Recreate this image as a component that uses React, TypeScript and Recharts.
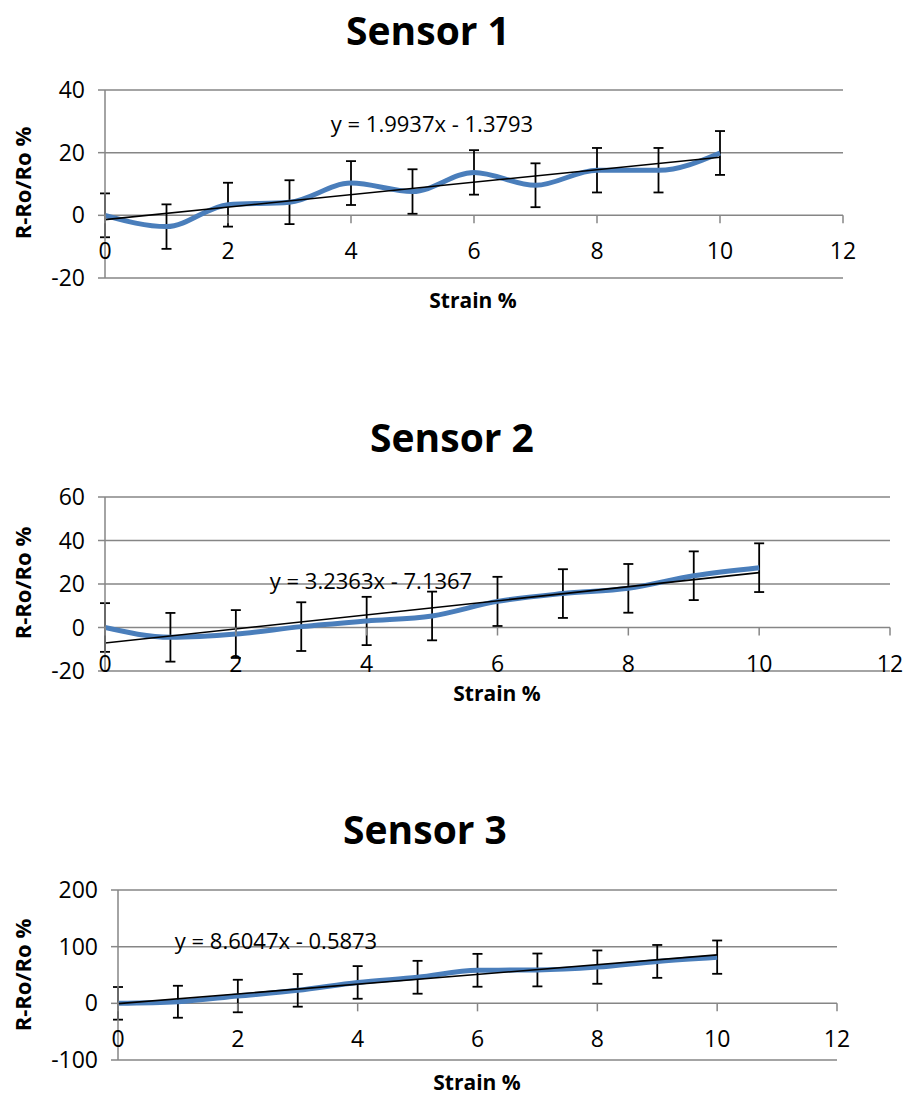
import React from 'react';
import { ComposedChart, Line, XAxis, YAxis, CartesianGrid, ErrorBar } from 'recharts';

// strain steps (x) shared by all three sensors
const strain = [0, 1, 2, 3, 4, 5, 6, 7, 8, 9, 10];
const xTicks = [0, 2, 4, 6, 8, 10, 12];

// Sensor 1
const sensor1Mean = [0, -3.6, 3.4, 4.2, 10.3, 7.6, 13.7, 9.6, 14.4, 14.4, 19.9];
const sensor1Err = [7, 7.1, 7, 7, 7, 7.1, 7.1, 7, 7.1, 7.1, 7];
const sensor1Ticks = [-20, 0, 20, 40];
const sensor1Fit = [1.9937, -1.3793];

// Sensor 2
const sensor2Mean = [0, -4.5, -3.0, 0.4, 3.0, 5.3, 12.0, 15.6, 18.0, 23.8, 27.5];
const sensor2Err = [11.2, 11.2, 11, 11.2, 11.1, 11.2, 11.3, 11.2, 11.2, 11.2, 11.2];
const sensor2Ticks = [-20, 0, 20, 40, 60];
const sensor2Fit = [3.2363, -7.1367];

// Sensor 3
const sensor3Mean = [0, 2.8, 12.9, 22.9, 36.9, 46, 58.3, 58.9, 63.9, 74, 81.5];
const sensor3Err = [28.8, 28.2, 28.7, 28.8, 28.8, 29, 29, 29, 29.4, 29, 29.4];
const sensor3Ticks = [-100, 0, 100, 200];
const sensor3Fit = [8.6047, -0.5873];

const FONT = '"Open Sans", sans-serif';
const GRID = '#868686';
const BLUE = '#4A7EBB';

type Layout = {
  svgTop: number;
  svgH: number;
  L: number;
  R: number;
  T: number;
  B: number;
  title: [number, number];
  yTitle: [number, number];
  xTitle: [number, number];
  eq: [number, number];
};

const XAXIS_H = 30;

const fmtFit = (fit: number[]) =>
  `y = ${fit[0].toFixed(4)}x ${fit[1] < 0 ? '-' : '+'} ${Math.abs(fit[1]).toFixed(4)}`;

const SensorChart = ({
  title,
  mean,
  err,
  yTicks,
  fit,
  layout,
}: {
  title: string;
  mean: number[];
  err: number[];
  yTicks: number[];
  fit: number[];
  layout: Layout;
}) => {
  const data = strain.map((x, i) => ({ x, mean: mean[i], err: err[i] }));
  const first = strain[0];
  const last = strain[strain.length - 1];
  const trend = [
    { x: first, trend: fit[0] * first + fit[1] },
    { x: last, trend: fit[0] * last + fit[1] },
  ];
  const yMin = yTicks[0];
  const yMax = yTicks[yTicks.length - 1];
  const plotTop = layout.T - layout.svgTop;
  const zeroY = plotTop + ((layout.B - layout.T) * yMax) / (yMax - yMin);
  const margin = {
    top: plotTop,
    right: 903 - layout.R,
    left: 0,
    bottom: layout.svgTop + layout.svgH - layout.B - XAXIS_H,
  };

  const renderXTick = (p: any) => (
    <g>
      <line x1={p.x} x2={p.x} y1={zeroY} y2={zeroY + 8} stroke={GRID} strokeWidth={1.5} />
      <text
        x={p.x}
        y={zeroY + 35}
        textAnchor="middle"
        dominantBaseline="central"
        fontSize={23}
        fontFamily={FONT}
        fill="#000"
      >
        {p.payload.value}
      </text>
    </g>
  );

  const abs = (pos: [number, number], extra: React.CSSProperties = {}): React.CSSProperties => ({
    position: 'absolute',
    left: pos[0],
    top: pos[1],
    transform: 'translate(-50%, -50%)',
    whiteSpace: 'nowrap',
    lineHeight: 1,
    fontFamily: FONT,
    color: '#000',
    ...extra,
  });

  return (
    <>
      <div style={{ position: 'absolute', left: 0, top: layout.svgTop }}>
        <ComposedChart width={903} height={layout.svgH} data={data} margin={margin}>
          <CartesianGrid vertical={false} stroke={GRID} strokeWidth={1.5} />
          <XAxis
            dataKey="x"
            type="number"
            domain={[0, 12]}
            ticks={xTicks}
            interval={0}
            allowDataOverflow
            height={XAXIS_H}
            axisLine={false}
            tickLine={false}
            tick={renderXTick}
          />
          <YAxis
            type="number"
            domain={[yMin, yMax]}
            ticks={yTicks}
            interval={0}
            width={layout.L}
            axisLine={{ stroke: GRID, strokeWidth: 1.5 }}
            tickLine={{ stroke: GRID, strokeWidth: 1.5 }}
            tickSize={7}
            tickMargin={13}
            tick={{ fontSize: 23, fill: '#000', fontFamily: FONT }}
          />
          <Line
            dataKey="mean"
            type="monotone"
            stroke={BLUE}
            strokeWidth={5}
            dot={false}
            activeDot={false}
            isAnimationActive={false}
          >
            <ErrorBar dataKey="err" direction="y" width={5} stroke="#000" strokeWidth={1.8} />
          </Line>
          <Line
            data={trend}
            dataKey="trend"
            type="linear"
            stroke="#000"
            strokeWidth={1.6}
            dot={false}
            activeDot={false}
            isAnimationActive={false}
          />
        </ComposedChart>
      </div>
      <div style={abs(layout.title, { fontSize: 39, fontWeight: 700 })}>{title}</div>
      <div style={abs(layout.xTitle, { fontSize: 21, fontWeight: 700 })}>Strain %</div>
      <div
        style={abs(layout.yTitle, {
          fontSize: 22,
          fontWeight: 700,
          transform: 'translate(-50%, -50%) rotate(-90deg)',
        })}
      >
        R-Ro/Ro %
      </div>
      <div style={abs(layout.eq, { fontSize: 22 })}>{fmtFit(fit)}</div>
    </>
  );
};

const layout1: Layout = {
  svgTop: 0, svgH: 330, L: 105, R: 843, T: 90, B: 278,
  title: [428, 29], yTitle: [22, 183], xTitle: [473, 300], eq: [432, 123],
};
const layout2: Layout = {
  svgTop: 400, svgH: 320, L: 105, R: 890, T: 497, B: 671,
  title: [452, 436], yTitle: [22, 583], xTitle: [497, 693], eq: [371, 580],
};
const layout3: Layout = {
  svgTop: 790, svgH: 305, L: 118, R: 837, T: 890, B: 1060,
  title: [425, 828], yTitle: [22, 975], xTitle: [477, 1082], eq: [276, 940],
};

const App = () => (
  <div style={{ position: 'absolute', left: 0, top: 0, width: 903, height: 1095, background: '#fff' }}>
    <SensorChart title="Sensor 1" mean={sensor1Mean} err={sensor1Err} yTicks={sensor1Ticks} fit={sensor1Fit} layout={layout1} />
    <SensorChart title="Sensor 2" mean={sensor2Mean} err={sensor2Err} yTicks={sensor2Ticks} fit={sensor2Fit} layout={layout2} />
    <SensorChart title="Sensor 3" mean={sensor3Mean} err={sensor3Err} yTicks={sensor3Ticks} fit={sensor3Fit} layout={layout3} />
  </div>
);

export default App;
